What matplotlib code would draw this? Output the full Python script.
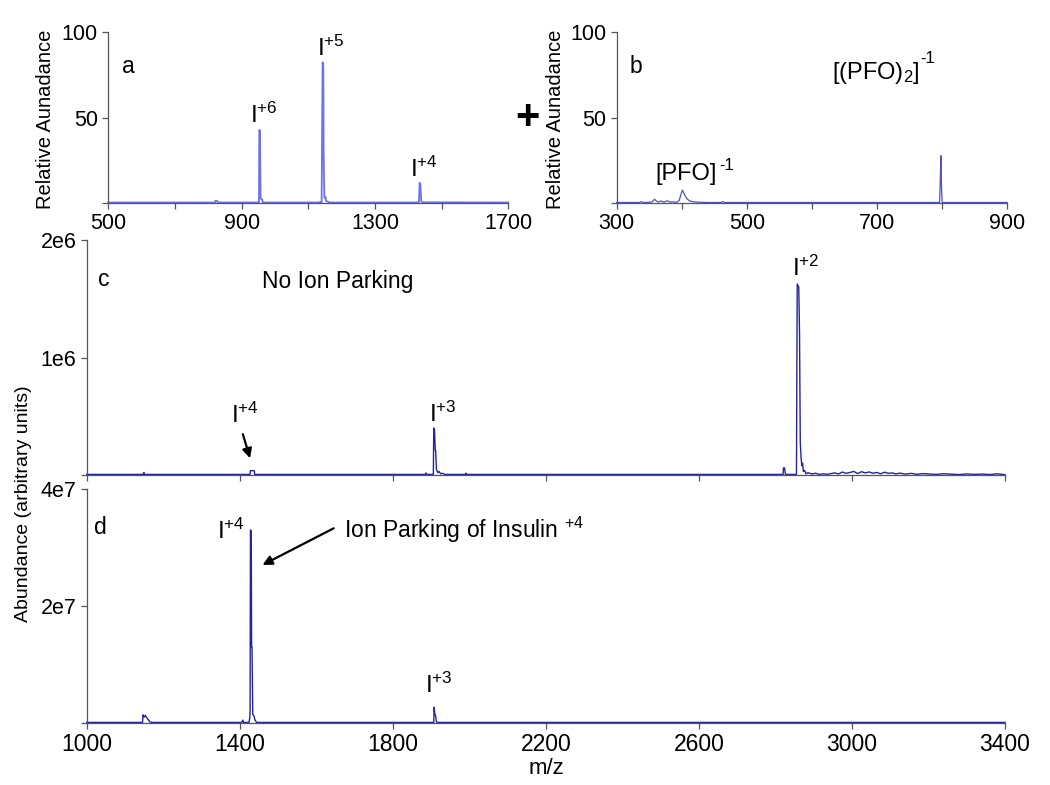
import numpy as np
import matplotlib
matplotlib.use("Agg")
import matplotlib.pyplot as plt

plt.rcParams['font.family'] = ['Liberation Sans', 'DejaVu Sans']
plt.rcParams['mathtext.fontset'] = 'custom'
plt.rcParams['mathtext.rm'] = 'Liberation Sans'
plt.rcParams['mathtext.it'] = 'Liberation Sans'

# panel a: insulin, positive mode (relative abundance)
a_mz = [500, 820, 821, 827, 828, 948, 952, 953, 955, 956, 957, 958, 962, 963, 968,
        1130, 1136, 1140, 1141, 1143, 1145, 1146, 1148, 1149, 1152, 1153, 1160, 1166,
        1428, 1432, 1434, 1436, 1439, 1442, 1700]
a_int = [0.3, 0.3, 1.2, 1.2, 0.3, 0.3, 0.5, 42.8, 42.5, 20, 3, 2.5, 2, 0.5, 0.3,
         0.3, 0.6, 0.4, 30, 82.4, 80, 30, 4, 3, 3.5, 1.2, 0.6, 0.3,
         0.3, 0.5, 11.9, 11, 1.0, 0.4, 0.3]

# panel b: PFO, negative mode
b_mz = [300, 335, 338, 341, 350, 355, 358, 361, 364, 368, 372, 375, 378, 382, 386,
        392, 396, 399, 401, 404, 408, 412, 418, 425, 440, 460, 463, 466, 480,
        796, 797, 798, 799, 800, 900]
b_int = [0.3, 0.3, 0.8, 0.3, 0.4, 0.8, 2.2, 1.2, 0.6, 1.2, 0.5, 0.8, 1.3, 0.5, 0.7,
         0.4, 1.5, 5.5, 7.6, 5.0, 2.5, 1.2, 0.7, 0.5, 0.3, 0.3, 0.8, 0.3, 0.3,
         0.3, 12, 27.7, 8, 0.3, 0.3]

# panel c: no ion parking (x 1e6)
c_mz = [1000, 1148, 1149, 1150, 1151, 1427, 1428, 1438, 1439,
        1885, 1886, 1888, 1889, 1906, 1907, 1909, 1911, 1912, 1914, 1915, 1918, 1921,
        1925, 1930, 1935, 1990, 1991, 1993, 2820, 2821, 2824, 2826,
        2855, 2856, 2857, 2861, 2863, 2865, 2867, 2869, 2871, 2873, 2876, 2880,
        2885, 2895, 2905, 2915, 2925, 2935, 2945, 2955, 2965, 2975, 2985, 2995,
        3005, 3015, 3025, 3035, 3045, 3055, 3065, 3075, 3085, 3095, 3105, 3115,
        3125, 3140, 3155, 3170, 3185, 3200, 3220, 3240, 3260, 3280, 3300, 3320,
        3340, 3360, 3380, 3400]
c_int = [0.005, 0.005, 0.02, 0.02, 0.005, 0.005, 0.037, 0.037, 0.005,
         0.005, 0.015, 0.015, 0.005, 0.005, 0.40, 0.38, 0.21, 0.21, 0.05, 0.04, 0.02, 0.03,
         0.01, 0.015, 0.005, 0.005, 0.015, 0.005, 0.005, 0.06, 0.06, 0.005,
         0.005, 0.9, 1.626, 1.60, 1.2, 0.27, 0.15, 0.08, 0.10, 0.03, 0.04, 0.01,
         0.020, 0.008, 0.015, 0.005, 0.010, 0.006, 0.012, 0.018, 0.009, 0.025, 0.014, 0.022,
         0.030, 0.012, 0.028, 0.018, 0.026, 0.015, 0.022, 0.010, 0.024, 0.014, 0.018, 0.009,
         0.016, 0.008, 0.014, 0.006, 0.012, 0.009, 0.005, 0.011, 0.007, 0.004, 0.009, 0.005,
         0.008, 0.004, 0.010, 0.003]

# panel d: ion parking of insulin +4 (x 1e7)
d_mz = [1000, 1146, 1147, 1150, 1153, 1158, 1162, 1165, 1170, 1405, 1408, 1410,
        1424, 1426, 1427, 1428, 1430, 1431, 1432, 1434, 1437, 1440, 1444,
        1907, 1908, 1910, 1912, 1914, 1916, 3400]
d_int = [0.01, 0.01, 0.14, 0.10, 0.13, 0.08, 0.05, 0.02, 0.01, 0.01, 0.05, 0.01,
         0.01, 0.08, 0.2, 3.30, 3.28, 1.3, 1.3, 0.15, 0.12, 0.05, 0.01,
         0.01, 0.27, 0.15, 0.12, 0.02, 0.01, 0.01]

W, H = 1050, 785
LBL = 16.5     # panel letters / annotations
ION = 17.5     # I^{+n} labels


def box(x0, y0, x1, y1):
    # pixel box (top-left origin) -> figure fraction rect
    return [x0 / W, 1 - y1 / H, (x1 - x0) / W, (y1 - y0) / H]


def style(ax):
    for s in ['top', 'right']:
        ax.spines[s].set_visible(False)
    for s in ['left', 'bottom']:
        ax.spines[s].set_color('#555555')
        ax.spines[s].set_linewidth(0.9)
    ax.tick_params(which='both', direction='out', length=4, width=0.9, color='#555555')


fig = plt.figure(figsize=(10.5, 7.85), dpi=100)

# ---- panel a
ax_a = fig.add_axes(box(108.3, 32.3, 508.3, 203))
ax_a.plot(a_mz, a_int, color='#7070ec', lw=1.3, clip_on=False)
ax_a.set_xlim(500, 1700)
ax_a.set_ylim(0, 100)
ax_a.set_xticks([500, 900, 1300, 1700])
ax_a.set_xticks([700, 1100, 1500], minor=True)
ax_a.set_yticks([0, 50, 100])
ax_a.set_yticklabels(['', '50', '100'])
style(ax_a)
ax_a.tick_params(labelsize=15.5)
ax_a.set_ylabel('Relative Aunadance', fontsize=14.5)
ax_a.yaxis.set_label_coords(-0.133, 0.49)
ax_a.text(560, 80, 'a', fontsize=LBL, ha='center', va='center')
ax_a.text(925, 44, r'$\mathregular{I^{+6}}$', fontsize=ION, ha='left', va='bottom')
ax_a.text(1125, 83, r'$\mathregular{I^{+5}}$', fontsize=ION, ha='left', va='bottom')
ax_a.text(1405, 12.5, r'$\mathregular{I^{+4}}$', fontsize=ION, ha='left', va='bottom')

# ---- panel b
ax_b = fig.add_axes(box(616.7, 32.3, 1007.3, 203))
ax_b.plot(b_mz, b_int, color='#5050c4', lw=0.9, clip_on=False)
ax_b.set_xlim(300, 900)
ax_b.set_ylim(0, 100)
ax_b.set_xticks([300, 500, 700, 900])
ax_b.set_xticks([400, 600, 800], minor=True)
ax_b.set_yticks([0, 50, 100])
ax_b.set_yticklabels(['', '50', '100'])
style(ax_b)
ax_b.tick_params(labelsize=15.5)
ax_b.set_ylabel('Relative Aunadance', fontsize=14.5)
ax_b.yaxis.set_label_coords(-0.132, 0.49)
ax_b.text(330, 80, 'b', fontsize=LBL, ha='center', va='center')
ax_b.text(630, 76, r'$\mathregular{[(PFO)_2]}$', fontsize=17, ha='left', va='center')
ax_b.text(766, 84.5, '-1', fontsize=12, ha='left', va='center')
ax_b.text(360, 17, '[PFO]', fontsize=17, ha='left', va='center')
ax_b.text(458, 22, '-1', fontsize=12, ha='left', va='center')

fig.text(527 / W, 1 - 118 / H, '+', fontsize=30, fontweight='bold', ha='center', va='center')

# ---- panel c
ax_c = fig.add_axes(box(86.7, 240, 1005, 475))
ax_c.plot(c_mz, c_int, color='#24249c', lw=1.0, clip_on=False)
ax_c.set_xlim(1000, 3400)
ax_c.set_ylim(0, 2)
ax_c.set_xticks(np.arange(1000, 3401, 400))
ax_c.set_xticklabels([])
ax_c.set_yticks([0, 1, 2])
ax_c.set_yticklabels(['', '1e6', '2e6'])
style(ax_c)
ax_c.tick_params(labelsize=15.5)
ax_c.text(1045, 1.66, 'c', fontsize=LBL, ha='center', va='center')
ax_c.text(1458, 1.65, 'No Ion Parking', fontsize=LBL, ha='left', va='center')
ax_c.text(1378, 0.40, r'$\mathregular{I^{+4}}$', fontsize=ION, ha='left', va='bottom')
ax_c.text(1895, 0.41, r'$\mathregular{I^{+3}}$', fontsize=ION, ha='left', va='bottom')
ax_c.text(2844, 1.65, r'$\mathregular{I^{+2}}$', fontsize=ION, ha='left', va='bottom')
ax_c.annotate('', xy=(1429, 0.12), xytext=(1406, 0.37),
              arrowprops=dict(arrowstyle='-|>', color='k', lw=1.6, mutation_scale=14))

# ---- panel d
ax_d = fig.add_axes(box(86.7, 489, 1005, 723))
ax_d.plot(d_mz, d_int, color='#24249c', lw=1.0, clip_on=False)
ax_d.set_xlim(1000, 3400)
ax_d.set_ylim(0, 4)
ax_d.set_xticks(np.arange(1000, 3401, 400))
ax_d.set_yticks([0, 2, 4])
ax_d.set_yticklabels(['', '2e7', '4e7'])
style(ax_d)
ax_d.tick_params(axis='y', labelsize=15.5)
ax_d.tick_params(axis='x', labelsize=16.5)
ax_d.text(1035, 3.35, 'd', fontsize=LBL, ha='center', va='center')
ax_d.text(1340, 3.07, r'$\mathregular{I^{+4}}$', fontsize=ION, ha='left', va='bottom')
ax_d.text(1884, 0.43, r'$\mathregular{I^{+3}}$', fontsize=ION, ha='left', va='bottom')
ax_d.text(1672, 3.30, r'$\mathregular{Ion\ Parking\ of\ Insulin\ ^{+4}}$', fontsize=LBL,
          ha='left', va='center')
ax_d.annotate('', xy=(1453, 2.68), xytext=(1652, 3.35),
              arrowprops=dict(arrowstyle='-|>', color='k', lw=1.6, mutation_scale=14))

fig.text(546 / W, 1 - 768 / H, 'm/z', fontsize=16, ha='center', va='center')
fig.text(24 / W, 1 - 504 / H, 'Abundance (arbitrary units)', fontsize=14,
         rotation=90, ha='center', va='center')

fig.savefig('out.png', dpi=100)
